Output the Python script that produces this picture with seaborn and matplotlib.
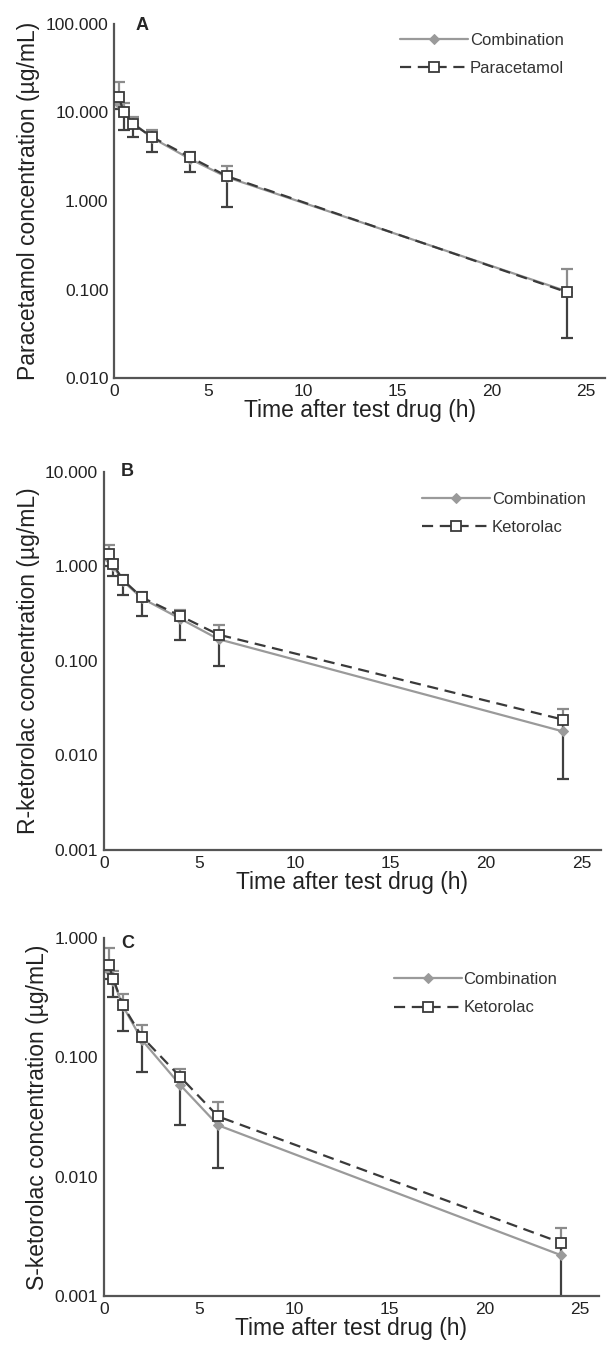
import matplotlib
matplotlib.use("Agg")
import matplotlib.pyplot as plt
import matplotlib.ticker as mticker
import seaborn as sns

sns.set_style("white")
plt.rcParams['font.family'] = ['Liberation Sans', 'DejaVu Sans']

# sampling times (h)
time = [0.25, 0.5, 1, 2, 4, 6, 24]

# panel A - paracetamol
para_comb = [12.5, 10.5, 7.6, 5.2, 3.0, 1.85, 0.095]
para_comb_upper = [22.0, 12.8, 8.9, 6.4, 3.6, 2.5, 0.17]
para_mono = [15.0, 10.2, 7.4, 5.3, 3.15, 1.9, 0.093]
para_mono_lower = [11.0, 6.3, 5.3, 3.6, 2.15, 0.85, 0.028]

# panel B - R-ketorolac
r_comb = [1.2, 1.0, 0.70, 0.46, 0.28, 0.17, 0.018]
r_comb_upper = [1.7, 1.17, 0.82, 0.54, 0.35, 0.24, 0.031]
r_mono = [1.35, 1.05, 0.72, 0.47, 0.30, 0.19, 0.024]
r_mono_lower = [1.0, 0.80, 0.50, 0.30, 0.165, 0.088, 0.0057]

# panel C - S-ketorolac
s_comb = [0.53, 0.44, 0.27, 0.14, 0.059, 0.027, 0.0022]
s_comb_upper = [0.83, 0.53, 0.34, 0.186, 0.080, 0.042, 0.0037]
s_mono = [0.60, 0.455, 0.273, 0.149, 0.069, 0.032, 0.0028]
s_mono_lower = [0.45, 0.32, 0.167, 0.075, 0.027, 0.0118, 0.0005]

comb_color = '#9a9a9a'
mono_color = '#3a3a3a'


def err_bars(ax, x, y0, y1, color):
    ax.vlines(x, y0, y1, color=color, lw=1.6, zorder=1)
    ax.plot(x, y1, ls='none', marker='_', ms=9, mew=1.6, color=color, zorder=1)


def panel(ax, comb, comb_up, mono, mono_lo, mono_name, letter, ylabel, ylim,
          letter_pos, leg_pos):
    err_bars(ax, time, comb, comb_up, '#8c8c8c')
    err_bars(ax, time, mono, mono_lo, '#404040')
    sns.lineplot(x=time, y=comb, ax=ax, color=comb_color, lw=1.6,
                 marker='D', ms=5, mec=comb_color, mfc=comb_color,
                 label='Combination', zorder=2)
    sns.lineplot(x=time, y=mono, ax=ax, color=mono_color, lw=1.6,
                 marker='s', ms=7, mec=mono_color, mfc='white', mew=1.3,
                 dashes=(5, 3), label=mono_name, zorder=3)
    ax.set_yscale('log')
    ax.set_ylim(*ylim)
    ax.set_xlim(0, 26)
    ax.set_xticks([0, 5, 10, 15, 20, 25])
    ax.yaxis.set_major_locator(mticker.LogLocator(base=10, numticks=10))
    ax.yaxis.set_minor_locator(mticker.NullLocator())
    ax.yaxis.set_major_formatter(mticker.FormatStrFormatter('%.3f'))
    sns.despine(ax=ax)
    for s in ['left', 'bottom']:
        ax.spines[s].set_color('#555555')
        ax.spines[s].set_linewidth(1.6)
    ax.tick_params(axis='both', which='major', direction='inout', length=6,
                   width=1.2, color='#555555', labelsize=12.5, pad=1,
                   labelcolor='#222222')
    ax.set_xlabel('Time after test drug (h)', fontsize=16.5, labelpad=0,
                  color='#222222')
    ax.set_ylabel(ylabel, fontsize=16.5, color='#222222', labelpad=4)
    ax.text(letter_pos[0], letter_pos[1], letter, transform=ax.transAxes,
            fontsize=13, fontweight='bold', va='center', ha='center')
    leg = ax.legend(loc='upper left', bbox_to_anchor=leg_pos,
                    frameon=False, fontsize=12, handlelength=4.1,
                    handletextpad=0.1, labelspacing=0.8, borderpad=0,
                    borderaxespad=0)
    for t in leg.get_texts():
        t.set_color('#333333')


fig = plt.figure(figsize=(6.07, 13.55), dpi=100)
axA = fig.add_axes([0.188, 0.721, 0.809, 0.2613])
axB = fig.add_axes([0.171, 0.3727, 0.819, 0.279])
axC = fig.add_axes([0.171, 0.0435, 0.816, 0.2642])

panel(axA, para_comb, para_comb_upper, para_mono, para_mono_lower,
      'Paracetamol', 'A', 'Paracetamol concentration (µg/mL)', (0.01, 100),
      (0.057, 0.997), (0.582, 0.975))
panel(axB, r_comb, r_comb_upper, r_mono, r_mono_lower,
      'Ketorolac', 'B', 'R-ketorolac concentration (µg/mL)', (0.001, 10),
      (0.048, 1.0), (0.64, 0.947))
panel(axC, s_comb, s_comb_upper, s_mono, s_mono_lower,
      'Ketorolac', 'C', 'S-ketorolac concentration (µg/mL)', (0.001, 1),
      (0.048, 0.985), (0.585, 0.905))

fig.savefig('out.png', dpi=100)
